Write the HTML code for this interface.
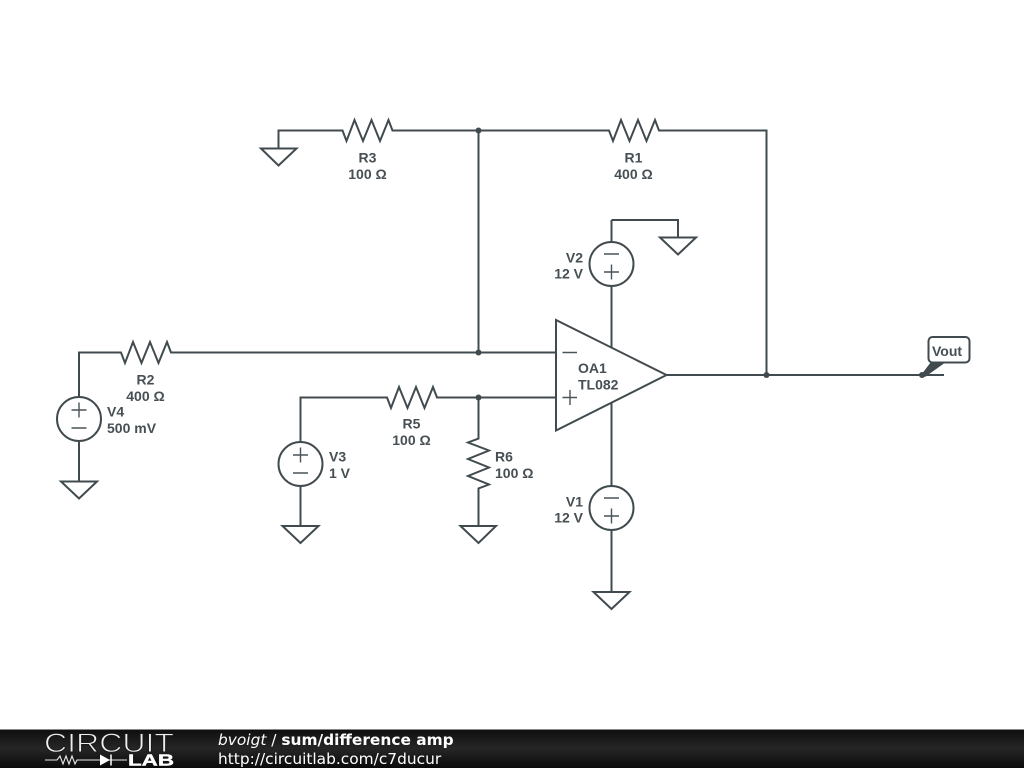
<!DOCTYPE html>
<html><head><meta charset="utf-8"><style>
html,body{margin:0;padding:0;background:#fff;width:1024px;height:768px;overflow:hidden}
svg{display:block}
.w{fill:none;stroke:#414b4f;stroke-width:2;stroke-linejoin:miter}
.s{fill:none;stroke:#4a5458;stroke-width:1.4}
.t{font:bold 14px "Liberation Sans",sans-serif;fill:#464f53}
.f{font-family:"DejaVu Sans",sans-serif;fill:#fff}
</style></head><body>
<svg width="1024" height="768" viewBox="0 0 1024 768" xmlns="http://www.w3.org/2000/svg">
<defs>
<linearGradient id="g" x1="0" y1="0" x2="0" y2="1"><stop offset="0" stop-color="#0e0e0e"/><stop offset=".5" stop-color="#262626"/><stop offset="1" stop-color="#0a0a0a"/></linearGradient>
</defs>
<g class="w">
<path d="M278.500 148.500V130.500H342.500l4 10.500 8-21 8.500 21 8.500-21 8.500 21 8.500-21 4 10.500H478.500M478.500 130.500H609l4 10.500 8-21 8.500 21 8.500-21 8.500 21 8.500-21 4 10.500H766.500V375"/>
<path d="M478.500 130.500V352.500"/>
<path d="M79 397V352.500H121l4 10.500 8-21 8.500 21 8.500-21 8.500 21 8.500-21 4 10.500H556"/>
<path d="M300.500 442V397.500H387l4 10.500 8-21 8.500 21 8.500-21 8.500 21 8.500-21 4 10.500H556"/>
<path d="M478.500 397.500V438.500l-10.500 4 21 8-21 8.500 21 8.500-21 8.500 21 8.500-10.500 4V526"/>
<path d="M556 320V430.500L666.500 375Z"/>
<path d="M666.500 375H944"/>
<path d="M611.500 220V242M611.500 286V348M611.500 402V486M611.500 530V592"/>
<path d="M611.500 220H678V237.500"/>
<path d="M79 441V481.500M300.500 486V526"/>
<circle cx="611.500" cy="264" r="22"/>
<circle cx="611.500" cy="508" r="22"/>
<circle cx="300.500" cy="464" r="22"/>
<circle cx="79" cy="419" r="22"/>
<path d="M261 148.500H296.500L278.500 165.500Z"/>
<path d="M660 237.500H696L678 254.500Z"/>
<path d="M61 481.500H97L79 498.500Z"/>
<path d="M282.500 526H318.500L300.500 543Z"/>
<path d="M460.500 526H496L478.500 543Z"/>
<path d="M593.500 592H629.500L611.500 609Z"/>
<rect x="928.500" y="337" width="41" height="25.500" rx="4" fill="#fff"/>
</g>
<g class="s">
<path d="M562.500 352.500H577M562.500 397.500H577M570 390V405"/>
<path d="M604 254H619M604 272H619M611.500 264.500V279.500"/>
<path d="M604 498H619M604 516H619M611.500 508.500V523.500"/>
<path d="M293 455H308M300.500 447.500V462.500M293 473H308"/>
<path d="M71.500 410H86.500M79 402.500V417.500M71.500 428H86.500"/>
</g>
<path d="M921 375L931 362H946L925 377Z" fill="#414b4f"/>
<g fill="#414b4f">
<circle cx="478.500" cy="130.500" r="3"/><circle cx="478.500" cy="352.500" r="3"/><circle cx="478.500" cy="397.500" r="3"/><circle cx="766.500" cy="375" r="3"/><circle cx="922" cy="375" r="3"/>
</g>
<g class="t" text-anchor="middle">
<text x="367.500" y="162.500">R3</text><text x="367.500" y="179">100 Ω</text>
<text x="633.500" y="162.500">R1</text><text x="633.500" y="179">400 Ω</text>
<text x="145.500" y="384.500">R2</text><text x="145.500" y="401">400 Ω</text>
<text x="411.500" y="428.500">R5</text><text x="411.500" y="445">100 Ω</text>
</g>
<g class="t">
<text x="495" y="461.500">R6</text><text x="495" y="478">100 Ω</text>
<text x="107" y="416.500">V4</text><text x="107" y="433">500 mV</text>
<text x="329" y="461.500">V3</text><text x="329" y="478">1 V</text>
<text x="578" y="373">OA1</text><text x="578" y="389.500">TL082</text>
<text x="932" y="356">Vout</text>
</g>
<g class="t" text-anchor="end">
<text x="583" y="262.500">V2</text><text x="583" y="278.500">12 V</text>
<text x="583" y="506.500">V1</text><text x="583" y="522.500">12 V</text>
</g>
<rect x="0" y="729" width="1024" height="39" fill="url(#g)"/>
<rect x="0" y="729" width="1024" height="1" fill="#888"/>
<text x="44" y="752" font-family="'Liberation Sans',sans-serif" font-size="26.500" fill="#eee" stroke="#1a1a1a" stroke-width=".9" textLength="130" lengthAdjust="spacingAndGlyphs">CIRCUIT</text>
<path d="M45 760H57l3-4 3 8 3-8 3 8 3-8 3 8 2-4H127" fill="none" stroke="#e8e8e8" stroke-width="1.100"/>
<path d="M100 754.500V765.500L110 760Z" fill="#fff"/>
<path d="M111 754.500V765.500" stroke="#fff" stroke-width="1.500"/>
<text x="128" y="765.500" font-family="'Liberation Sans',sans-serif" font-weight="bold" font-size="15.500" fill="#fff" stroke="#fff" stroke-width=".4" textLength="46" lengthAdjust="spacingAndGlyphs">LAB</text>
<text class="f" x="218" y="745" font-size="15.400"><tspan font-style="italic">bvoigt</tspan> / <tspan font-weight="bold">sum/difference amp</tspan></text>
<text class="f" x="218" y="764" font-size="15.400">http://circuitlab.com/c7ducur</text>
</svg>
</body></html>
